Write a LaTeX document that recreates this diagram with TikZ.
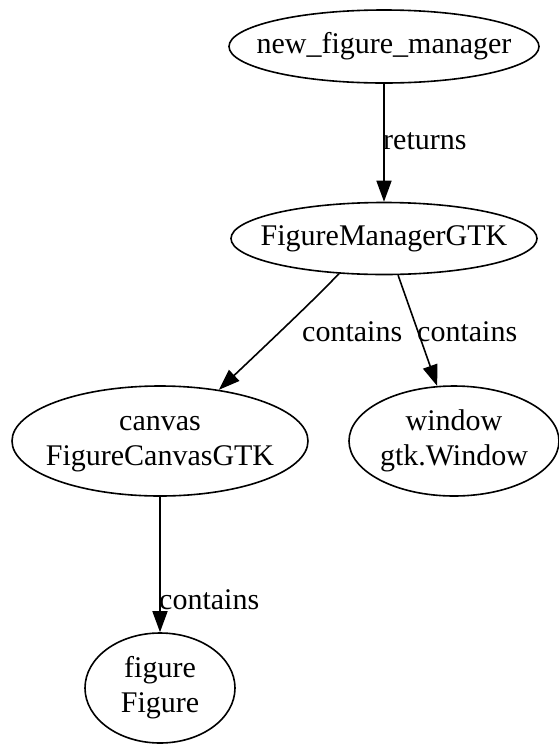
\documentclass[tikz,border=0pt]{standalone}
\usepackage{fontspec}
\setmainfont{Liberation Serif}
\usetikzlibrary{shapes.geometric,arrows.meta}
\newcommand{\zbox}[1]{\makebox[0pt][c]{\begin{tabular}{@{}c@{}}#1\end{tabular}}}
\begin{document}
\begin{tikzpicture}[x=1pt,y=-1pt,
  gnode/.style={ellipse,draw,line width=1.6pt,inner sep=0pt,
    font=\fontsize{30}{35}\selectfont},
  edge/.style={line width=1.6pt,-{Triangle[length=21pt,width=15pt]}},
  elabel/.style={font=\fontsize{30}{35}\selectfont,inner sep=0pt,anchor=west}]
\useasboundingbox (0,0) rectangle (559,748);
\node[gnode,minimum width=310pt,minimum height=73pt] (nfm) at (384,46.5) {\zbox{new\_figure\_manager}};
\node[gnode,minimum width=306pt,minimum height=72pt] (fmg) at (384,238.5) {\zbox{FigureManagerGTK}};
\node[gnode,minimum width=296pt,minimum height=110pt] (cv) at (160,441) {\zbox{canvas\\FigureCanvasGTK}};
\node[gnode,minimum width=210pt,minimum height=110pt] (win) at (454,441) {\zbox{window\\gtk.Window}};
\node[gnode,minimum width=150pt,minimum height=110pt] (fig) at (160,688) {\zbox{figure\\Figure}};
\draw[edge] (nfm) -- (fmg);
\node[elabel] (l1) at (383,141) {returns};
\draw[edge] (fmg.218) .. controls (326,287) and (318,296) .. (cv.41);
\node[elabel] (l2) at (302,332) {contains};
\draw[edge] (fmg.291) -- (win.107);
\node[elabel] (l3) at (417,332) {contains};
\draw[edge] (cv) -- (fig);
\node[elabel] (l4) at (159,600) {contains};
\end{tikzpicture}
\end{document}
